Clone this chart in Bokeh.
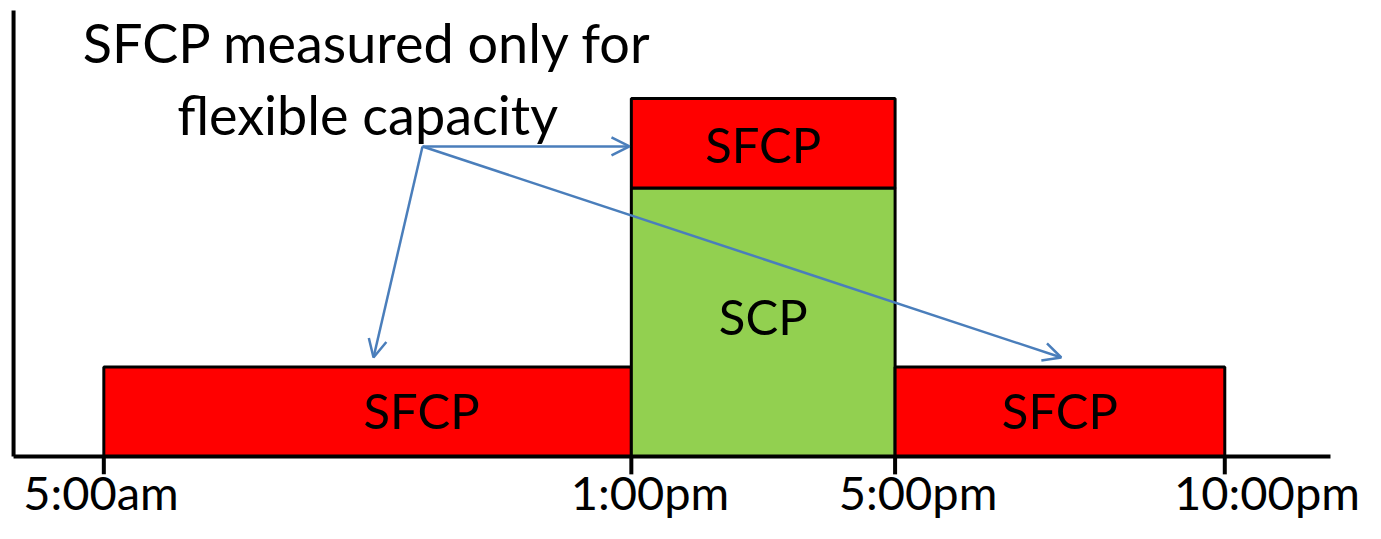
from bokeh.plotting import figure
from bokeh.models import Range1d, ColumnDataSource, Arrow, OpenHead
from bokeh.core.properties import value
from bokeh.embed import file_html
from bokeh.resources import INLINE

# ---- data ----
seg_start = [5, 13, 13, 17]          # hour of day
seg_end = [13, 17, 17, 22]
seg_bottom = [0, 0, 3, 0]
seg_top = [1, 3, 4, 1]
seg_label = ["SFCP", "SCP", "SFCP", "SFCP"]
seg_kind = ["SFCP", "SCP", "SFCP", "SFCP"]

tick_hours = [5, 13, 17, 22]
tick_labels = ["5:00am", "1:00pm", "5:00pm", "10:00pm"]

title_lines = ["SFCP measured only for", "flexible capacity"]

# ---- style / layout ----
FONT = value("Lato")
colors = {"SFCP": "#FF0000", "SCP": "#92D050"}
ARROW_COLOR = "#4A7EBB"

p = figure(width=1365, height=523, output_backend="svg", toolbar_location=None,
           x_range=Range1d(3.433, 24.134), y_range=Range1d(-0.749, 5.095),
           min_border=0)
p.axis.visible = False
p.grid.visible = False
p.outline_line_color = None
p.background_fill_color = "white"

src = ColumnDataSource(dict(left=seg_start, right=seg_end, bottom=seg_bottom, top=seg_top,
                            color=[colors[k] for k in seg_kind]))
p.quad(left="left", right="right", bottom="bottom", top="top", source=src,
       fill_color="color", line_color="black", line_width=3)

# axes drawn as lines
x_axis_start, x_axis_end = 3.631, 23.603
y_axis_top = 4.983
p.segment(x0=[x_axis_start], y0=[0], x1=[x_axis_end], y1=[0], line_color="black", line_width=4)
p.segment(x0=[x_axis_start], y0=[0], x1=[x_axis_start], y1=[y_axis_top], line_color="black", line_width=4)
tick_len = 0.2
p.segment(x0=tick_hours, y0=[0] * len(tick_hours), x1=tick_hours,
          y1=[-tick_len] * len(tick_hours), line_color="black", line_width=4)

# tick labels (text boxes slightly offset from ticks, as in the source)
tick_label_x = [4.957, 13.283, 17.348, 22.64]
p.text(x=tick_label_x, y=[-0.40] * 4, text=tick_labels, text_font=FONT,
       text_font_size=value("47px"),
       text_align="center", text_baseline="middle", text_color="black")

# bar labels
bar_label_x = [9.818, 15.0, 15.0, 19.50]
bar_label_y = [0.514, 1.575, 3.492, 0.514]
p.text(x=bar_label_x, y=bar_label_y, text=seg_label, text_font=FONT,
       text_font_size=value("49px"),
       text_align="center", text_baseline="middle", text_color="black")

# annotation title
p.text(x=[9.0, 9.0], y=[4.625, 3.816], text=title_lines, text_font=FONT,
       text_font_size=value("54px"),
       text_align="center", text_baseline="middle", text_color="black")

# arrows
origin = (9.833, 3.464)
targets = [(12.972, 3.464), (9.09, 1.106), (19.52, 1.106)]
for tx, ty in targets:
    p.add_layout(Arrow(end=OpenHead(size=18, line_color=ARROW_COLOR, line_width=2.5),
                       x_start=origin[0], y_start=origin[1], x_end=tx, y_end=ty,
                       line_color=ARROW_COLOR, line_width=2.5))

open("out.html", "w").write(file_html(p, INLINE))
